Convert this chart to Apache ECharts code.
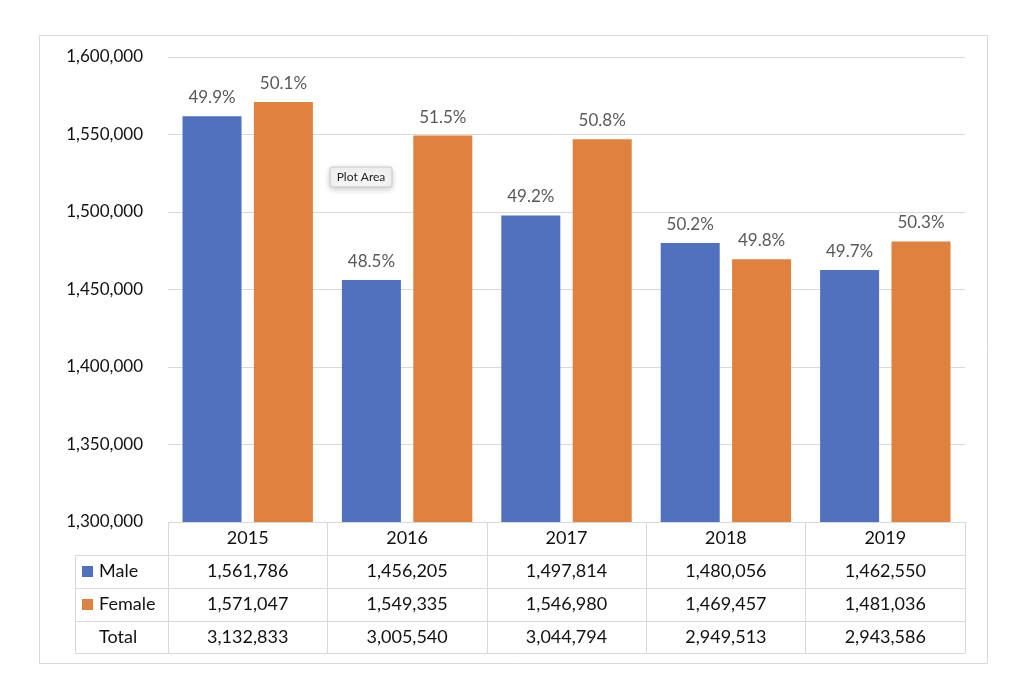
<!DOCTYPE html>
<html><head><meta charset="utf-8">
<script src="https://cdn.jsdelivr.net/npm/echarts@6/dist/echarts.min.js"></script>
<style>html,body{margin:0;padding:0;background:#fff}#c{width:1024px;height:683px}</style>
</head><body><div id="c"></div>
<script>
var years = ['2015','2016','2017','2018','2019'];
var male = [1561786, 1456205, 1497814, 1480056, 1462550];
var female = [1571047, 1549335, 1546980, 1469457, 1481036];
var total = [3132833, 3005540, 3044794, 2949513, 2943586];
var malePct = ['49.9%','48.5%','49.2%','50.2%','49.7%'];
var femalePct = ['50.1%','51.5%','50.8%','49.8%','50.3%'];
var seriesNames = ['Male','Female'];
var rowNames = ['Male','Female','Total'];
var colors = ['#4F71BE','#E0823F'];
var FONT = 'Lato';
function fmt(v){return v.toString().replace(/\B(?=(\d{3})+(?!\d))/g, ',');}

var chart = echarts.init(document.getElementById('c'));
var gridL=168, gridR=965, gridT=57, gridB=522, row=33;
var graphics = [
  {type:'rect', shape:{x:39.5,y:35.5,width:948,height:628}, style:{fill:'none',stroke:'#d9d9d9',lineWidth:1}, z:-1},
  {type:'line', shape:{x1:75.5,y1:gridB+row+0.5,x2:75.5,y2:gridB+4*row-0.5}, style:{stroke:'#d9d9d9',lineWidth:1}}
];
for (var i=1;i<=4;i++){
  var y = Math.round(gridB + i*row - (i==4?1:0)) + 0.5;
  graphics.push({type:'line', shape:{x1:75,y1:y,x2:gridR,y2:y}, style:{stroke:'#d9d9d9',lineWidth:1}});
}
rowNames.forEach(function(n,i){
  var cy = gridB + (i+1)*row + row/2;
  if (i<2) graphics.push({type:'rect', shape:{x:82,y:cy-5.5,width:11,height:11}, style:{fill:colors[i]}});
  graphics.push({type:'text', x:99, y:cy, style:{text:n, fontFamily:FONT, fontSize:18, fill:'#111', verticalAlign:'middle', align:'left'}});
});
graphics.push({type:'group', x:330, y:167, children:[
  {type:'rect', shape:{x:0,y:0,width:62,height:20,r:2}, style:{fill:'#f4f4f4',stroke:'#c8c8c8',lineWidth:1,shadowBlur:6,shadowColor:'rgba(0,0,0,0.2)',shadowOffsetY:2}},
  {type:'text', x:31, y:10, style:{text:'Plot Area', fontFamily:FONT, fontSize:12, fill:'#222', align:'center', verticalAlign:'middle'}}
]});

chart.setOption({
  animation:false,
  textStyle:{fontFamily:FONT},
  grid:{left:gridL, right:1024-gridR, top:gridT, bottom:683-gridB, containLabel:false},
  xAxis:{
    type:'category', data:years,
    axisLine:{show:true, lineStyle:{color:'#d9d9d9', width:1}},
    axisTick:{show:true, length:4*row-1, lineStyle:{color:'#d9d9d9', width:1}},
    axisLabel:{margin:0, lineHeight:row, fontSize:18, color:'#111', fontFamily:FONT,
      formatter:function(v, idx){return [v, fmt(male[idx]), fmt(female[idx]), fmt(total[idx])].join('\n');}}
  },
  yAxis:{
    type:'value', min:1300000, max:1600000, interval:50000,
    axisLine:{show:false}, axisTick:{show:false},
    splitLine:{lineStyle:{color:'#d9d9d9', width:1}},
    axisLabel:{margin:25, fontSize:17, color:'#111', fontFamily:FONT, formatter:function(v){return fmt(v);}}
  },
  series:[
    {name:seriesNames[0], type:'bar', data:male, barWidth:59, barGap:'21%', itemStyle:{color:colors[0]},
     label:{show:true, position:'top', distance:10, fontSize:17, color:'#595959', fontFamily:FONT, formatter:function(p){return malePct[p.dataIndex];}}},
    {name:seriesNames[1], type:'bar', data:female, barWidth:59, itemStyle:{color:colors[1]},
     label:{show:true, position:'top', distance:10, fontSize:17, color:'#595959', fontFamily:FONT, formatter:function(p){return femalePct[p.dataIndex];}}}
  ],
  graphic:graphics
});
</script></body></html>
